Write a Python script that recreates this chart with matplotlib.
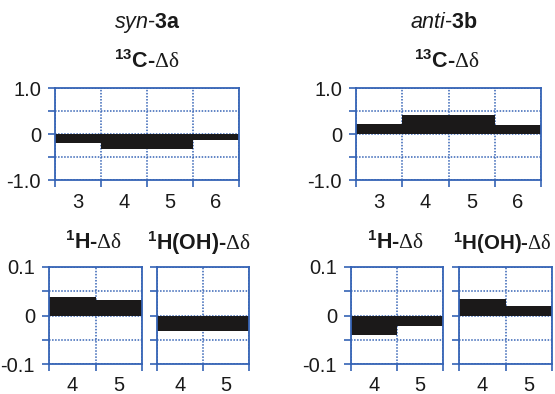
import matplotlib
matplotlib.use("Agg")
import matplotlib.pyplot as plt
import numpy as np

plt.rcParams["font.family"] = "Liberation Sans"
plt.rcParams["mathtext.fontset"] = "custom"
plt.rcParams["mathtext.rm"] = "Liberation Serif"
plt.rcParams["mathtext.it"] = "Liberation Sans:italic"
plt.rcParams["mathtext.bf"] = "Liberation Sans:bold"

# chemical-shift differences (ppm) per position
carbon_pos = ["3", "4", "5", "6"]
syn_13c = [-0.20, -0.32, -0.32, -0.13]
anti_13c = [0.22, 0.42, 0.42, 0.20]

proton_pos = ["4", "5"]
syn_1h = [0.039, 0.032]
syn_1h_oh = [-0.032, -0.032]
anti_1h = [-0.040, -0.021]
anti_1h_oh = [0.033, 0.020]

c_ticklabels = ["-1.0", "", "0", "", "1.0"]
h_ticklabels = ["-0.1", "", "0", "", "0.1"]

BLUE = "#3563b5"
BAR = "#1b1919"
TICK_FS = 14.5
TITLE_FS = 15.5

W, H = 555, 394
fig = plt.figure(figsize=(W / 100, H / 100), dpi=100)


def add_box(x0, y0, x1, y1):
    """Axes placed by pixel edges, measured from the top-left corner."""
    return fig.add_axes([x0 / W, 1 - y1 / H, (x1 - x0) / W, (y1 - y0) / H])


def panel(ax, labels, values, lim, yticklabels, show_ylabels=True, xpad=9):
    n = len(labels)
    x = np.arange(n)
    ax.bar(x, values, width=1.0, color=BAR, linewidth=0, zorder=3)
    ax.set_xlim(-0.5, n - 0.5)
    ax.set_ylim(-lim, lim)

    # boundaries carry the tick marks and grid, centres carry the labels
    ax.set_xticks(np.arange(n + 1) - 0.5)
    ax.set_xticklabels([])
    ax.set_xticks(x, minor=True)
    ax.set_xticklabels(labels, minor=True, fontsize=TICK_FS, color="#1a1a1a")
    ax.tick_params(axis="x", which="minor", length=0, pad=xpad)
    ax.tick_params(axis="x", which="major", length=5, width=1.2,
                   direction="out", color=BLUE)

    ax.set_yticks(np.linspace(-lim, lim, 5))
    ax.set_yticklabels(yticklabels if show_ylabels else [""] * 5,
                       fontsize=TICK_FS, color="#1a1a1a")
    ax.tick_params(axis="y", length=5, width=1.2, direction="out",
                   color=BLUE, pad=5)

    ax.grid(True, which="major", color=BLUE, linestyle=(0, (1, 1)),
            linewidth=1.1, zorder=1)
    for s in ax.spines.values():
        s.set_color(BLUE)
        s.set_linewidth(1.3)
        s.set_zorder(4)


def delta_title(nucleus):
    return r"$\mathbf{" + nucleus + r"}$" + "-" + r"$\mathrm{\Delta\delta}$"


# syn-3a
ax = add_box(55, 88, 239, 180)
panel(ax, carbon_pos, syn_13c, 1.0, c_ticklabels)
ax = add_box(49, 267, 142, 364)
panel(ax, proton_pos, syn_1h, 0.1, h_ticklabels, xpad=8.5)
ax = add_box(157, 267, 249, 364)
panel(ax, proton_pos, syn_1h_oh, 0.1, h_ticklabels, show_ylabels=False, xpad=8.5)

# anti-3b
ax = add_box(356, 88, 541, 180)
panel(ax, carbon_pos, anti_13c, 1.0, c_ticklabels)
ax = add_box(351, 267, 443, 364)
panel(ax, proton_pos, anti_1h, 0.1, h_ticklabels, xpad=8.5)
ax = add_box(459, 267, 552, 364)
panel(ax, proton_pos, anti_1h_oh, 0.1, h_ticklabels, show_ylabels=False, xpad=8.5)


def ftext(x, y, s, size=TITLE_FS, **kw):
    fig.text(x / W, 1 - y / H, s, ha="center", va="center",
             fontsize=size, color="#1a1a1a", **kw)


ftext(147, 23, r"$\mathit{syn}$-$\mathbf{3a}$")
ftext(444, 23, r"$\mathit{anti}$-$\mathbf{3b}$")
ftext(147, 62, delta_title("^{13}C"), fontweight="bold")
ftext(447, 62, delta_title("^{13}C"), fontweight="bold")
ftext(93, 243, delta_title("^{1}H"), fontweight="bold")
ftext(199, 243, delta_title("^{1}H(OH)"), fontweight="bold")
ftext(395, 243, delta_title("^{1}H"), fontweight="bold")
ftext(502, 243, delta_title("^{1}H(OH)"), size=14.8, fontweight="bold")

fig.savefig("out.png", dpi=100)
